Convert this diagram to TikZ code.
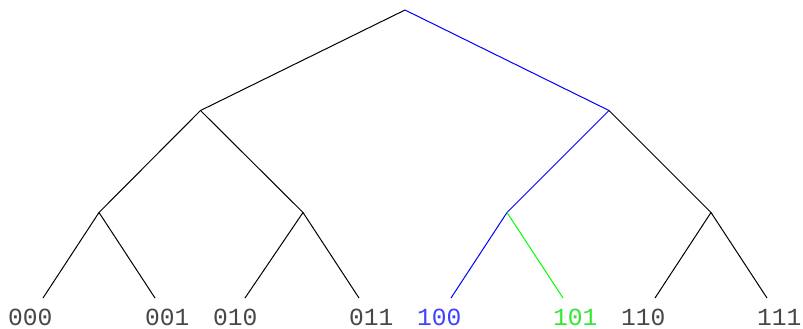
\documentclass[tikz,border=0pt]{standalone}
\usepackage{fontspec}
\newfontfamily\labelfont{Liberation Mono}
\definecolor{lgreen}{RGB}{50,230,50}
\begin{document}
\begin{tikzpicture}[x=1pt,y=-1pt,
  edge/.style={line width=1pt},
  leaflabel/.style={font=\labelfont\fontsize{24.6}{28}\selectfont, inner sep=0pt, anchor=base west, text=black!72}]
\useasboundingbox (0,0) rectangle (803,329);
\coordinate (r) at (405,10);
\coordinate (n0) at (200.5,110.5);
\coordinate (n1) at (609,110.5);
\coordinate (n00) at (99,212.5);
\coordinate (n01) at (303,212.5);
\coordinate (n10) at (507,212.5);
\coordinate (n11) at (711,212.5);
\coordinate (l000) at (43,298);
\coordinate (l001) at (155,298);
\coordinate (l010) at (245,298);
\coordinate (l011) at (359,298);
\coordinate (l100) at (451,298);
\coordinate (l101) at (563,298);
\coordinate (l110) at (655,298);
\coordinate (l111) at (767,298);
\draw[edge] (r) -- (n0);
\draw[edge,blue] (r) -- (n1);
\draw[edge] (n0) -- (n00);
\draw[edge] (n0) -- (n01);
\draw[edge,blue] (n1) -- (n10);
\draw[edge] (n1) -- (n11);
\draw[edge] (n00) -- (l000);
\draw[edge] (n00) -- (l001);
\draw[edge] (n01) -- (l010);
\draw[edge] (n01) -- (l011);
\draw[edge,blue] (n10) -- (l100);
\draw[edge,green] (n10) -- (l101);
\draw[edge] (n11) -- (l110);
\draw[edge] (n11) -- (l111);
\node[leaflabel] (t000) at (8,325) {000};
\node[leaflabel] (t001) at (145,325) {001};
\node[leaflabel] (t010) at (213,325) {010};
\node[leaflabel] (t011) at (349,325) {011};
\node[leaflabel,text=blue!75] (t100) at (417,325) {100};
\node[leaflabel,text=lgreen] (t101) at (553,325) {101};
\node[leaflabel] (t110) at (621,325) {110};
\node[leaflabel] (t111) at (757,325) {111};
\end{tikzpicture}
\end{document}
